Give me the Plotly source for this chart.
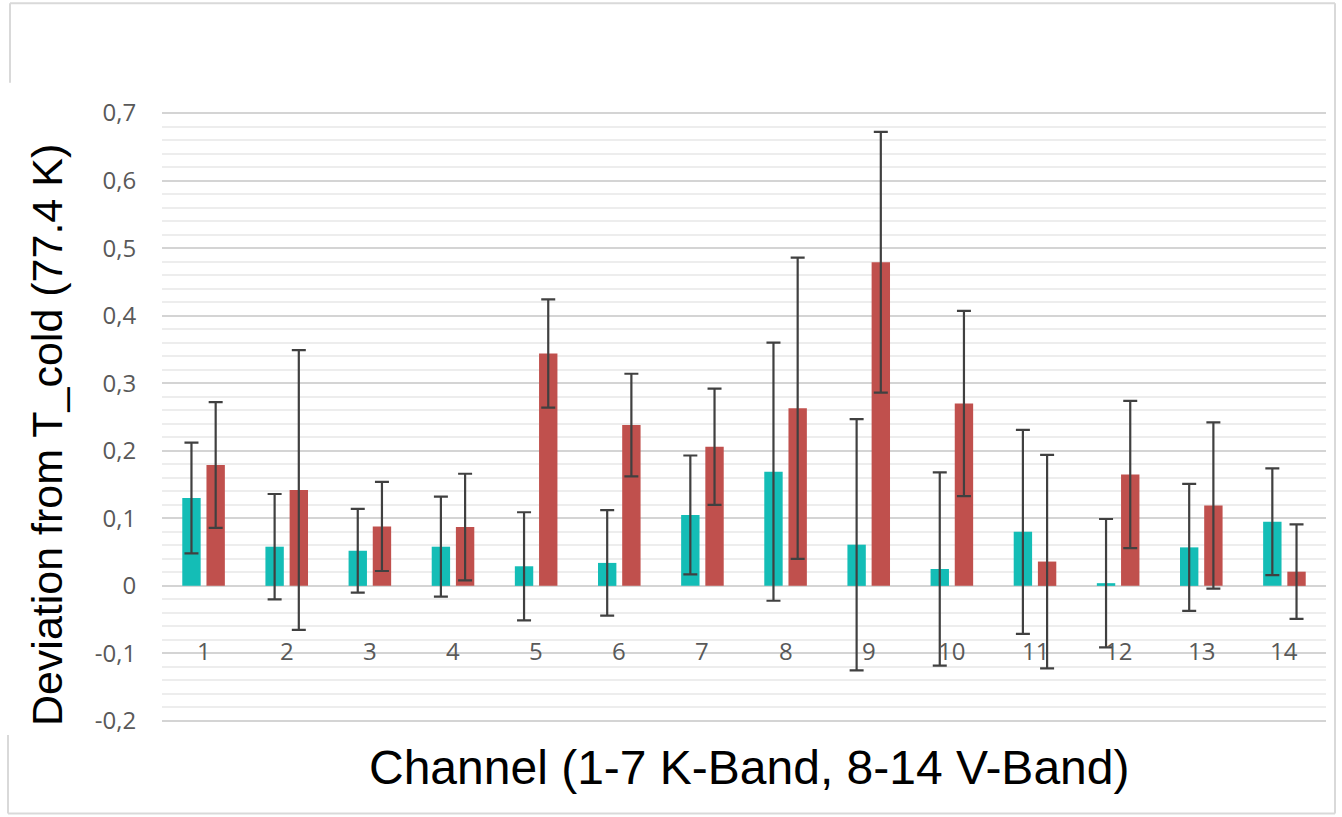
import plotly.graph_objects as go

channels = [str(i) for i in range(1, 15)]
teal_vals = [0.130, 0.058, 0.052, 0.058, 0.029, 0.034, 0.105, 0.169, 0.061, 0.025, 0.080, 0.004, 0.057, 0.095]
teal_err = [0.082, 0.078, 0.062, 0.074, 0.080, 0.078, 0.088, 0.191, 0.186, 0.143, 0.151, 0.095, 0.094, 0.079]
red_vals = [0.179, 0.142, 0.088, 0.087, 0.344, 0.238, 0.206, 0.263, 0.479, 0.270, 0.036, 0.165, 0.119, 0.021]
red_err = [0.093, 0.207, 0.066, 0.079, 0.080, 0.076, 0.086, 0.223, 0.193, 0.137, 0.158, 0.109, 0.123, 0.070]

ytick_vals = [-0.2, -0.1, 0, 0.1, 0.2, 0.3, 0.4, 0.5, 0.6, 0.7]
ytick_text = ["-0,2", "-0,1", "0", "0,1", "0,2", "0,3", "0,4", "0,5", "0,6", "0,7"]

x_title = "Channel (1-7 K-Band, 8-14 V-Band)"
y_title = "Deviation from T_cold (77.4 K)"

TEAL = "#14BDB6"
RED = "#C0504D"
ERR = "#404040"
TICKFONT = dict(family="Open Sans", size=24, color="#595959")

fig = go.Figure()
fig.add_trace(go.Bar(
    x=channels, y=teal_vals, marker=dict(color=TEAL, line=dict(width=0)),
    error_y=dict(type="data", array=teal_err, visible=True, color=ERR, thickness=2.2, width=7),
    showlegend=False,
))
fig.add_trace(go.Bar(
    x=channels, y=red_vals, marker=dict(color=RED, line=dict(width=0)),
    error_y=dict(type="data", array=red_err, visible=True, color=ERR, thickness=2.2, width=7),
    showlegend=False,
))

# category labels drawn inside the plot near -0.1 (x given as category index)
for i, c in enumerate(channels):
    fig.add_annotation(x=i, y=-0.1, xref="x", yref="y", text=c, showarrow=False,
                       yanchor="middle", yshift=3, font=TICKFONT)

# axis titles
fig.add_annotation(x=(749 - 162) / 1164, y=(721 - 765) / 608, xref="paper", yref="paper",
                   text=x_title, showarrow=False, xanchor="center", yanchor="middle",
                   font=dict(family="Liberation Sans", size=48, color="#000000"))
fig.add_annotation(x=(47 - 162) / 1164, y=(721 - 435) / 608, xref="paper", yref="paper",
                   text=y_title, showarrow=False, textangle=-90, xanchor="center", yanchor="middle",
                   font=dict(family="Liberation Sans", size=43, color="#000000"))

# outer frame
def px_x(p):
    return (p - 162) / 1164

def px_y(p):
    return (721 - p) / 608

FRAME = dict(color="#D9D9D9", width=2)
fig.add_shape(type="line", xref="paper", yref="paper", x0=px_x(10), x1=px_x(1335), y0=px_y(6), y1=px_y(6), line=FRAME)
fig.add_shape(type="line", xref="paper", yref="paper", x0=px_x(1335), x1=px_x(1335), y0=px_y(6), y1=px_y(811), line=FRAME)
fig.add_shape(type="line", xref="paper", yref="paper", x0=px_x(8), x1=px_x(1335), y0=px_y(811), y1=px_y(811), line=FRAME)
fig.add_shape(type="line", xref="paper", yref="paper", x0=px_x(10), x1=px_x(10), y0=px_y(6), y1=px_y(85), line=FRAME)
fig.add_shape(type="line", xref="paper", yref="paper", x0=px_x(8), x1=px_x(8), y0=px_y(733), y1=px_y(811), line=FRAME)

fig.update_layout(
    width=1342, height=817,
    margin=dict(l=162, r=16, t=111, b=94),
    paper_bgcolor="white", plot_bgcolor="white",
    barmode="group", bargap=0.418, bargroupgap=0.24,
    xaxis=dict(showticklabels=False, showgrid=False, zeroline=False, showline=False, ticks=""),
    yaxis=dict(range=[-0.203, 0.703], tickvals=ytick_vals, ticktext=ytick_text,
               showgrid=True, gridcolor="#D4D4D4", gridwidth=2,
               minor=dict(dtick=0.02, showgrid=True, gridcolor="#EDEDED", gridwidth=1.5),
               zeroline=False, showline=False,
               ticks="outside", ticklen=20, tickcolor="rgba(0,0,0,0)",
               tickfont=TICKFONT),
)

fig.write_html("out.html")
